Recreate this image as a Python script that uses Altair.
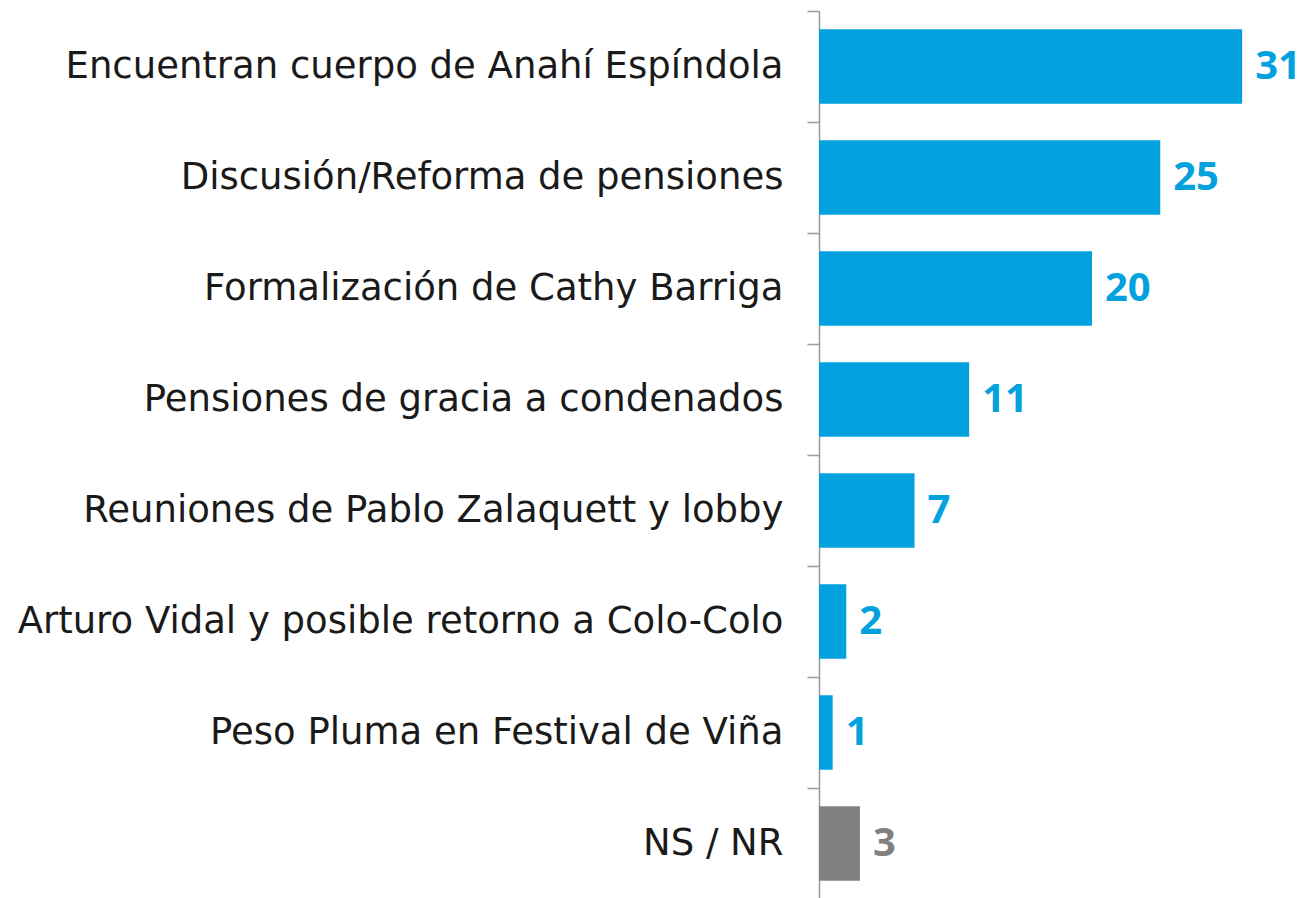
import altair as alt
import pandas as pd

categories = [
    "Encuentran cuerpo de Anahí Espíndola",
    "Discusión/Reforma de pensiones",
    "Formalización de Cathy Barriga",
    "Pensiones de gracia a condenados",
    "Reuniones de Pablo Zalaquett y lobby",
    "Arturo Vidal y posible retorno a Colo-Colo",
    "Peso Pluma en Festival de Viña",
    "NS / NR",
]
values = [31, 25, 20, 11, 7, 2, 1, 3]
groups = ["tema", "tema", "tema", "tema", "tema", "tema", "tema", "nsnr"]

df = pd.DataFrame({"categoria": categories, "valor": values, "grupo": groups})

color_scale = alt.Scale(domain=["tema", "nsnr"], range=["#03A2DF", "#808080"])

PX_PER_UNIT = 13.65
PLOT_W = 482

y_enc = alt.Y(
    "categoria:N",
    sort=categories,
    scale=alt.Scale(paddingInner=0, paddingOuter=0),
    axis=alt.Axis(
        title=None,
        labelFont="DejaVu Sans",
        labelFontSize=37,
        labelColor="#1a1a1a",
        labelPadding=24,
        labelLimit=900,
        tickSize=12,
        tickColor="#9a9a9a",
        domainColor="#9a9a9a",
        tickWidth=1.5,
        domainWidth=1.5,
        tickBand="extent",
    ),
)

x_scale = alt.Scale(domain=[0, PLOT_W / PX_PER_UNIT], nice=False)

bars = alt.Chart(df).mark_bar(height=alt.RelativeBandSize(0.67)).encode(
    x=alt.X("valor:Q", scale=x_scale, axis=None),
    y=y_enc,
    color=alt.Color("grupo:N", scale=color_scale, legend=None),
)

labels = alt.Chart(df).mark_text(
    align="left", baseline="middle", dx=13, font="Open Sans", fontWeight="bold", fontSize=40
).encode(
    x=alt.X("valor:Q", scale=x_scale),
    y=alt.Y("categoria:N", sort=categories),
    text="valor:Q",
    color=alt.Color("grupo:N", scale=color_scale, legend=None),
)

chart = (
    (bars + labels)
    .properties(
        width=PLOT_W,
        height=888,
        autosize=alt.AutoSizeParams(type="none"),
        padding={"left": 811, "top": 3, "right": 0, "bottom": 0},
    )
    .configure_view(stroke=None)
)

chart.save("out.html", embed_options={"renderer": "svg", "actions": False})
